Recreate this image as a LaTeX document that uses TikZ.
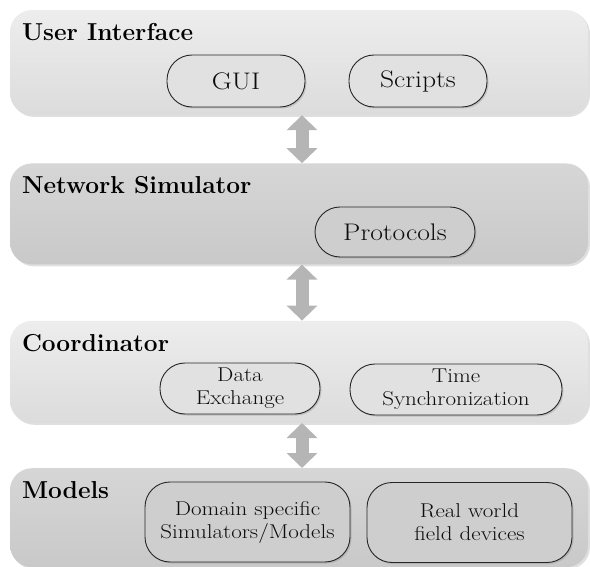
\documentclass[tikz,border=0pt]{standalone}
\usepackage{graphicx}
\usepackage{xcolor}
\usepackage{tikz}
\usetikzlibrary{positioning, shadows, arrows.meta}

\newcommand{\stretchtext}[1]{\scalebox{1.15}[1]{#1}}

\definecolor{paletop}{HTML}{EDEDED}
\definecolor{palebot}{HTML}{DCDCDC}
\definecolor{darktop}{HTML}{D6D6D6}
\definecolor{darkbot}{HTML}{C9C9C9}
\definecolor{arrowgray}{HTML}{B5B5B5}

\begin{document}
\begin{tikzpicture}[x=1pt, y=-1pt,
    paleblock/.style={rectangle, rounded corners=22pt, minimum width=578pt, top color=paletop, bottom color=palebot, draw=none, drop shadow={shadow xshift=2pt, shadow yshift=-2pt, opacity=0.25}},
    darkblock/.style={rectangle, rounded corners=22pt, minimum width=578pt, top color=darktop, bottom color=darkbot, draw=none, drop shadow={shadow xshift=2pt, shadow yshift=-2pt, opacity=0.25}},
    title/.style={anchor=base west, inner sep=0pt, font=\fontsize{24.5}{28}\selectfont\bfseries},
    palepill/.style={rectangle, rounded corners=25pt, draw=black!85, line width=0.9pt, fill=palebot!70!paletop, inner sep=0pt, align=center, text=black!95, drop shadow={shadow xshift=1.5pt, shadow yshift=-1.5pt, opacity=0.3}},
    darkpill/.style={rectangle, rounded corners=25pt, draw=black!85, line width=0.9pt, fill=darkbot!60!darktop, inner sep=0pt, align=center, text=black!95, drop shadow={shadow xshift=1.5pt, shadow yshift=-1.5pt, opacity=0.3}},
    bigtext/.style={font=\fontsize{24}{28}\selectfont},
    smalltext/.style={font=\fontsize{20}{23}\selectfont},
    updown/.style={draw=arrowgray, line width=13pt, {Triangle[width=30pt, length=15pt]}-{Triangle[width=30pt, length=15pt]}}]

    \useasboundingbox (0,0) rectangle (590,567);

    \node [paleblock, minimum height=105pt] (ui) at (299,62.5) {};
    \node [darkblock, minimum height=101pt, below=48pt of ui] (ns) {};
    \node [paleblock, minimum height=102pt, below=56pt of ns] (co) {};
    \node [darkblock, minimum height=99pt, below=45pt of co] (mo) {};

    \node [title] (uititle) at ([xshift=12pt, yshift=-31pt]ui.north west) {User Interface};
    \node [title] (nstitle) at ([xshift=12pt, yshift=-30pt]ns.north west) {Network Simulator};
    \node [title] (cotitle) at ([xshift=12pt, yshift=-31pt]co.north west) {Coordinator};
    \node [title] (motitle) at ([xshift=12pt, yshift=-30pt]mo.north west) {Models};

    \node [palepill, bigtext, minimum width=138pt, minimum height=52pt] (gui) at (236,81) {\stretchtext{GUI}};
    \node [palepill, bigtext, minimum width=138pt, minimum height=52pt] (scripts) at (418,81) {\stretchtext{Scripts}};
    \node [darkpill, bigtext, minimum width=160pt, minimum height=50pt] (protocols) at (395,232) {\stretchtext{Protocols}};
    \node [palepill, smalltext, minimum width=160pt, minimum height=51pt] (dataex) at (240,388.5) {\stretchtext{Data}\\\stretchtext{Exchange}};
    \node [palepill, smalltext, minimum width=212pt, minimum height=51pt] (timesync) at (456,389.5) {\stretchtext{Time}\\\stretchtext{Synchronization}};
    \node [darkpill, smalltext, minimum width=205pt, minimum height=80pt] (domain) at (247.5,522) {\stretchtext{Domain specific}\\\stretchtext{Simulators/Models}};
    \node [darkpill, smalltext, minimum width=205pt, minimum height=80pt] (realworld) at (469.5,522.5) {\stretchtext{Real world}\\\stretchtext{field devices}};

    \draw [updown] ([xshift=3pt]ui.south) -- ([xshift=3pt]ns.north);
    \draw [updown] ([xshift=3pt]ns.south) -- ([xshift=3pt]co.north);
    \draw [updown] ([xshift=3pt]co.south) -- ([xshift=3pt]mo.north);

\end{tikzpicture}
\end{document}
